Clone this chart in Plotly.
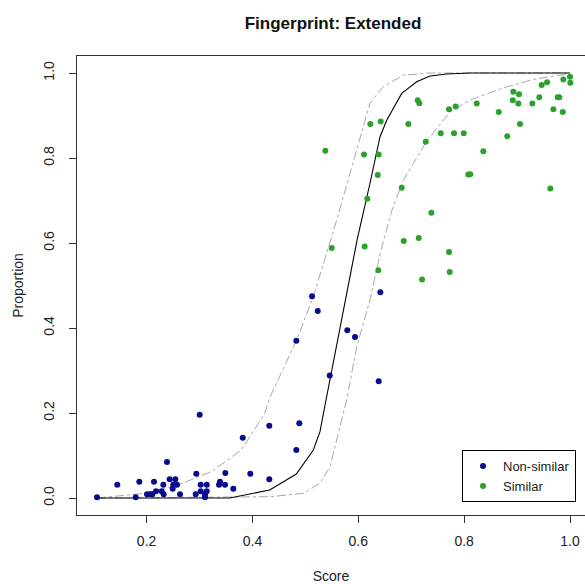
import plotly.graph_objects as go

# ---- data ----
nonsim_x = [0.1063, 0.1446, 0.1862, 0.1794, 0.2008, 0.2059, 0.2108, 0.2140, 0.2178, 0.2285,
            0.2323, 0.2316, 0.2385, 0.2436, 0.2542, 0.2504, 0.2574, 0.2493, 0.2631, 0.2939,
            0.2928, 0.3003, 0.3022, 0.3136, 0.3022, 0.3136, 0.3103, 0.3103, 0.3368, 0.3387,
            0.3487, 0.3481, 0.3638, 0.3816, 0.3959, 0.4318, 0.4318, 0.4885, 0.4829, 0.4829,
            0.5125, 0.5233, 0.5460, 0.5792, 0.5938, 0.6416, 0.6385]
nonsim_y = [0.002, 0.031, 0.038, 0.002, 0.009, 0.009, 0.009, 0.038, 0.016, 0.016,
            0.009, 0.031, 0.085, 0.044, 0.044, 0.031, 0.031, 0.022, 0.009, 0.057,
            0.009, 0.196, 0.031, 0.031, 0.016, 0.016, 0.002, 0.009, 0.031, 0.038,
            0.059, 0.031, 0.022, 0.142, 0.057, 0.170, 0.044, 0.176, 0.113, 0.370,
            0.475, 0.440, 0.288, 0.395, 0.379, 0.484, 0.275]

sim_x = [0.5377, 0.5497, 0.6120, 0.6858, 0.7141, 0.7714, 0.6378, 0.7727, 0.7204, 0.7122,
         0.7153, 0.6227, 0.6423, 0.6945, 0.7714, 0.7840, 0.7557, 0.7808, 0.7992, 0.7274,
         0.6108, 0.6385, 0.6367, 0.6820, 0.6170, 0.7380, 0.8078, 0.8116, 0.8237, 0.8362,
         0.8653, 0.8929, 0.9036, 0.8918, 0.9023, 0.9055, 0.8815, 0.9288, 0.9420, 0.9465,
         0.9566, 0.9768, 0.9798, 0.9685, 0.9862, 0.9874, 1.0000, 1.0006, 0.9628]
sim_y = [0.817, 0.588, 0.592, 0.605, 0.612, 0.579, 0.536, 0.532, 0.514, 0.936,
         0.929, 0.880, 0.886, 0.880, 0.915, 0.921, 0.858, 0.858, 0.858, 0.838,
         0.808, 0.808, 0.760, 0.730, 0.704, 0.671, 0.761, 0.762, 0.928, 0.816,
         0.908, 0.956, 0.950, 0.936, 0.928, 0.880, 0.851, 0.928, 0.943, 0.972,
         0.978, 0.943, 0.943, 0.915, 0.908, 0.985, 0.991, 0.977, 0.728]

fit_x = [0.1063, 0.357, 0.4326, 0.4829, 0.515, 0.5276, 0.539, 0.598, 0.622, 0.641,
         0.6537, 0.682, 0.7103, 0.7355, 0.767, 0.811, 1.0]
fit_y = [0.0, 0.0, 0.019, 0.0565, 0.113, 0.156, 0.2306, 0.609, 0.740, 0.850,
         0.889, 0.952, 0.9795, 0.993, 0.9976, 1.0, 1.0]

upper_x = [0.1063, 0.1964, 0.2593, 0.3222, 0.379, 0.4231, 0.4332, 0.4836, 0.515, 0.5592,
           0.5843, 0.622, 0.6472, 0.685, 0.7355, 1.0]
upper_y = [0.0, 0.011, 0.0306, 0.0619, 0.113, 0.199, 0.2376, 0.3718, 0.4736, 0.654,
           0.764, 0.929, 0.968, 0.995, 1.0, 1.0]

lower_x = [0.1063, 0.4332, 0.4961, 0.5276, 0.5465, 0.5592, 0.5717, 0.5781, 0.597, 0.622,
           0.6429, 0.6637, 0.685, 0.7292, 0.7733, 0.811, 0.874, 0.9307, 0.981, 1.0]
lower_y = [0.0, 0.003, 0.011, 0.0346, 0.0736, 0.1365, 0.199, 0.2306, 0.356, 0.466,
           0.5835, 0.678, 0.7475, 0.840, 0.908, 0.9365, 0.965, 0.985, 0.995, 0.997]

x_ticks = [0.2, 0.4, 0.6, 0.8, 1.0]
y_ticks = [0.0, 0.2, 0.4, 0.6, 0.8, 1.0]

BLUE = "#0a0a8c"
GREEN = "#2ca02c"
BAND = "#a8a8a8"
FONT = "Liberation Sans, Arial, sans-serif"

fig = go.Figure()
fig.add_trace(go.Scatter(x=upper_x, y=upper_y, mode="lines", showlegend=False,
                         line=dict(color=BAND, width=1, dash="dashdot"), hoverinfo="skip"))
fig.add_trace(go.Scatter(x=lower_x, y=lower_y, mode="lines", showlegend=False,
                         line=dict(color=BAND, width=1, dash="dashdot"), hoverinfo="skip"))
fig.add_trace(go.Scatter(x=fit_x, y=fit_y, mode="lines", showlegend=False,
                         line=dict(color="black", width=1.1), hoverinfo="skip"))
fig.add_trace(go.Scatter(x=nonsim_x, y=nonsim_y, mode="markers", name="Non-similar",
                         marker=dict(color=BLUE, size=6)))
fig.add_trace(go.Scatter(x=sim_x, y=sim_y, mode="markers", name="Similar",
                         marker=dict(color=GREEN, size=6)))

fig.update_layout(
    width=585, height=584,
    margin=dict(l=77, r=0, t=56, b=69),
    paper_bgcolor="white", plot_bgcolor="white",
    font=dict(family=FONT, size=14, color="#222"),
    title=dict(text="<b>Fingerprint: Extended</b>", x=333 / 585, xref="container",
               xanchor="center", y=1 - 23 / 584, yref="container", yanchor="middle",
               font=dict(size=17, color="#111")),
    legend=dict(x=(576 - 77) / 508, y=0.028, xanchor="right", yanchor="bottom",
                bordercolor="black", borderwidth=1, bgcolor="white", itemwidth=30,
                font=dict(size=13, color="#222"), tracegroupgap=0),
    xaxis=dict(range=[0.0685, 1.0283], tickvals=x_ticks, ticktext=[f"{v:.1f}" for v in x_ticks],
               ticks="outside", ticklen=7, tickcolor="#333", showgrid=False, zeroline=False,
               showline=True, linecolor="#333", linewidth=1, mirror=True, ticklabelstandoff=6,
               title=dict(text="Score", standoff=24, font=dict(size=14))),
    yaxis=dict(range=[-0.04, 1.04], tickvals=y_ticks, ticktext=[f"{v:.1f}" for v in y_ticks],
               tickangle=-90, ticks="outside", ticklen=7, tickcolor="#333", showgrid=False,
               zeroline=False, showline=True, linecolor="#333", linewidth=1, mirror=False,
               ticklabelstandoff=9,
               title=dict(text="Proportion", standoff=14, font=dict(size=14))),
)

fig.write_html("out.html", config={"displayModeBar": False},
               post_script="document.body.style.margin='0';document.body.style.overflow='hidden';")
